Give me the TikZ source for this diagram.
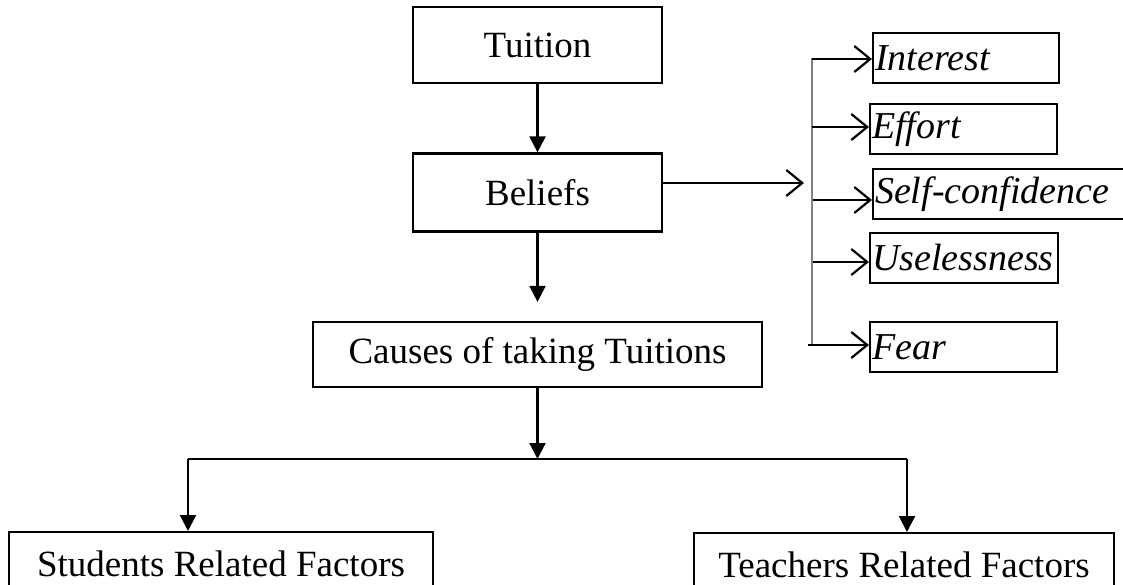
\documentclass[tikz,border=0pt]{standalone}
\usepackage{fontspec}
\setmainfont{Liberation Serif}
\usetikzlibrary{arrows.meta, positioning}
\tikzstyle{box}=[draw, line width=2.2pt, inner sep=2pt, font=\fontsize{37}{44}\selectfont]
\tikzstyle{item}=[box, anchor=west, minimum height=50pt, align=left, font=\fontsize{38}{44}\selectfont\itshape]
\tikzstyle{down}=[line width=2.2pt, -{Triangle[width=16pt,length=16pt]}]
\tikzstyle{side}=[line width=2.2pt, -{Straight Barb[width=26pt,length=16pt,line width=2.2pt]}]

\begin{document}
\begin{tikzpicture}[x=1pt, y=-1pt]
          \useasboundingbox (0,0) rectangle (1123,585);
          \node[box, minimum width=249pt, minimum height=76pt] (tuition) at (537.5,45)    {Tuition};
          \node[box, minimum width=249pt, minimum height=78pt] (beliefs) at (537.5,192.5) {Beliefs};
          \node[box, minimum width=449pt, minimum height=65pt] (causes)  at (537.5,354.5) {Causes of taking Tuitions};
          \node[box, minimum width=424pt, minimum height=64pt, anchor=north] (students) at (221,531) {Students Related Factors};
          \node[box, minimum width=420pt, minimum height=64pt, anchor=north] (teachers) at (904,532) {Teachers Related Factors};

          \node[item, text width=182pt] (interest) at (872,58)  {Interest};
          \node[item, text width=183pt] (effort)   at (869,129) {Effort};
          \node[item, text width=262pt] (selfconf) at (872,194) {Self-confidence};
          \node[item, text width=184pt] (useless)  at (869,258) {Uselessness};
          \node[item, text width=183pt] (fear)     at (869,347) {Fear};

          \coordinate (in)     at (804,183);
          \coordinate (bustop) at (812,58);
          \coordinate (busbot) at (812,345);
          \coordinate (split)  at (537.5,459);
          \coordinate (left)   at (188,459);
          \coordinate (right)  at (907,459);

          \draw[gray, line width=1.6pt] (bustop) -- (busbot);
          \draw[line width=2.2pt] (left) -- (right);

          \path[down]
            (tuition) edge (beliefs)
            (beliefs) edge [shorten >=19pt] (causes)
            (causes)  edge (split)
            (left)    edge (students.north -| left)
            (right)   edge (teachers.north -| right);

          \path[side]
            (beliefs.east |- in) edge (in)
            (812,59)  edge (interest.west |- 0,59)
            (812,127) edge (effort.west |- 0,127)
            (813,200) edge (selfconf.west |- 0,200)
            (813,262) edge (useless.west |- 0,262)
            (808,345) edge (fear.west |- 0,345);
        \end{tikzpicture}
\end{document}
